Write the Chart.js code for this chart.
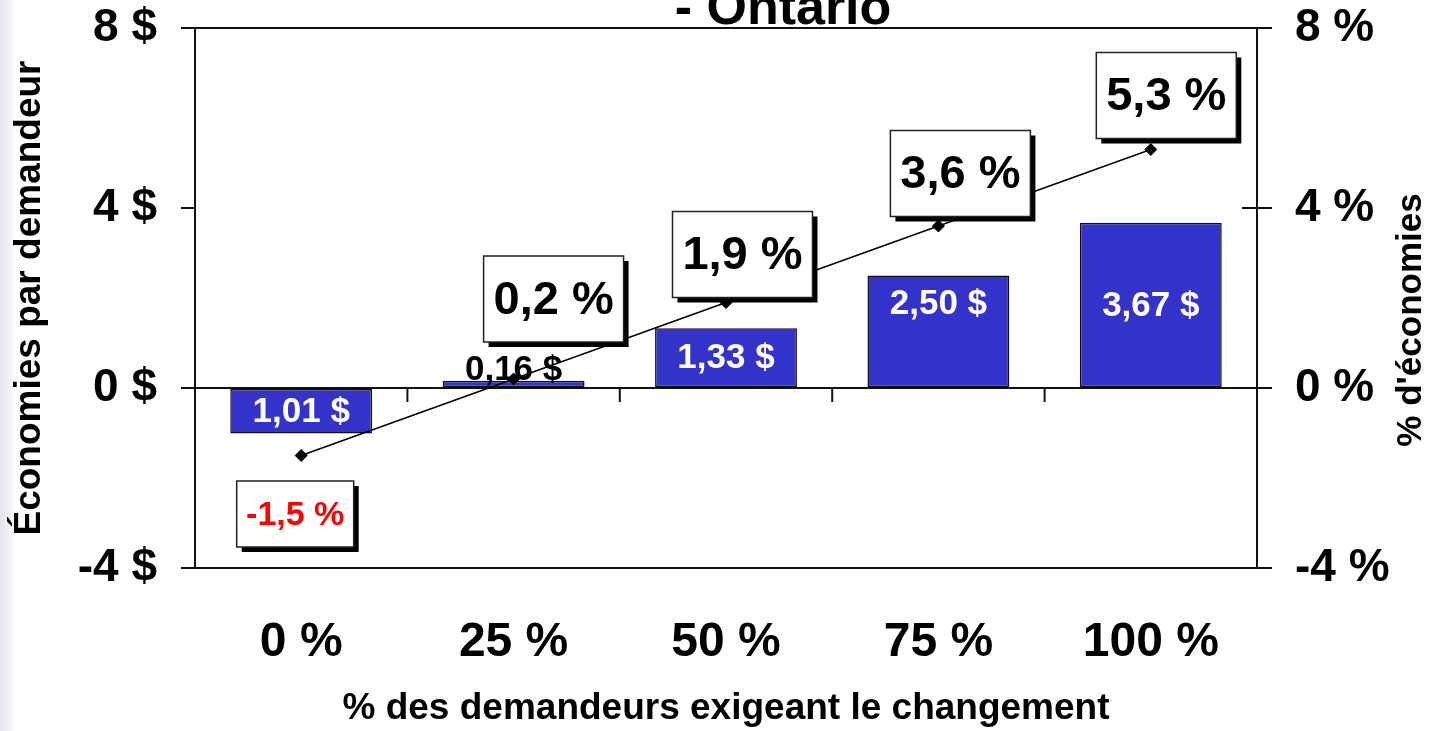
<!DOCTYPE html>
<html><head><meta charset="utf-8">
<script src="https://cdn.jsdelivr.net/npm/chart.js@4/dist/chart.umd.min.js"></script>
<style>
html,body{margin:0;padding:0;}
body{width:1435px;height:731px;overflow:hidden;background:linear-gradient(to right,#e3e5ec 0px,#eceef3 7px,#f8f9fb 12px,#fff 16px);}
#wrap{position:relative;width:1435px;height:731px;}
</style></head><body>
<div id="wrap"><canvas id="c" width="1435" height="731"></canvas></div>
<script>
// ---- data ----
const categories = ['0 %', '25 %', '50 %', '75 %', '100 %'];
const savingsPerClaimant = [-1.01, 0.16, 1.33, 2.50, 3.67];   // $ (left axis)
const savingsPercent = [-1.5, 0.2, 1.9, 3.6, 5.3];           // % (right axis)
const axisMin = -4, axisMax = 8, axisStep = 4;
const chartTitle = '- Ontario';
const xTitle = '% des demandeurs exigeant le changement';
const yTitle = 'Économies par demandeur';
const y2Title = "% d'économies";

const FONT = '"Liberation Sans", Arial, Helvetica, sans-serif';
Chart.defaults.font.family = FONT;
Chart.defaults.color = '#000';

const fmtDollar = v => Math.abs(v).toFixed(2).replace('.', ',') + ' $';
const fmtPct = v => v.toFixed(1).replace('.', ',') + ' %';

// styling for labels (offsets in px relative to library-computed element positions)
const barLabelStyle = [
  {mode: 'center', color: '#fff'},
  {mode: 'above', color: '#000', dy: -11},
  {mode: 'center', color: '#fff'},
  {mode: 'top', color: '#fff', dy: 27.5},
  {mode: 'center', color: '#fff'}
];
const boxStyle = [
  {dx: -6, dy: 25.5, below: true, w: 117, h: 66, size: 34, color: '#ff0000'},
  {dx: 40, dy: -37, w: 140, h: 86, size: 47, color: '#000'},
  {dx: 16.5, dy: -5, w: 140, h: 86, size: 47, color: '#000'},
  {dx: 22, dy: -9.5, w: 140, h: 86, size: 47, color: '#000'},
  {dx: 15.5, dy: -11, w: 140, h: 86, size: 47, color: '#000'}
];

const decor = {
  id: 'decor',
  afterDatasetDraw(chart, args) {
    if (args.index !== 1) return;
    const ctx = chart.ctx;
    const meta = chart.getDatasetMeta(1);
    ctx.save();
    ctx.font = 'bold 35px ' + FONT;
    ctx.textAlign = 'center';
    ctx.textBaseline = 'middle';
    meta.data.forEach((el, i) => {
      const st = barLabelStyle[i];
      const top = Math.min(el.y, el.base), bot = Math.max(el.y, el.base);
      let y;
      if (st.mode === 'center') y = (top + bot) / 2;
      else y = top + st.dy;
      ctx.fillStyle = st.color;
      ctx.fillText(fmtDollar(savingsPerClaimant[i]), el.x, y + 1);
    });
    ctx.restore();
  },
  afterDraw(chart) {
    const ctx = chart.ctx;
    const xs = chart.scales.x, ys = chart.scales.y, y2 = chart.scales.y2;
    const zeroY = ys.getPixelForValue(0);
    ctx.save();
    ctx.strokeStyle = '#111';
    ctx.lineWidth = 2;
    for (let i = 0; i < categories.length - 1; i++) {
      const bx = (xs.getPixelForValue(i) + xs.getPixelForValue(i + 1)) / 2;
      ctx.beginPath(); ctx.moveTo(bx, zeroY); ctx.lineTo(bx, zeroY + 14); ctx.stroke();
    }
    y2.ticks.forEach(t => {
      const py = y2.getPixelForValue(t.value);
      ctx.beginPath(); ctx.moveTo(y2.left - 15, py); ctx.lineTo(y2.left, py); ctx.stroke();
    });
    const lm = chart.getDatasetMeta(0);
    lm.data.forEach((pt, i) => {
      const st = boxStyle[i];
      const cx = pt.x + st.dx;
      const top = st.below ? pt.y + st.dy : pt.y + st.dy - st.h;
      const left = cx - st.w / 2;
      ctx.fillStyle = '#000';
      ctx.fillRect(left + 5, top + 5, st.w, st.h);
      ctx.fillStyle = '#fff';
      ctx.fillRect(left, top, st.w, st.h);
      ctx.lineWidth = 1.5;
      ctx.strokeStyle = '#222';
      ctx.strokeRect(left, top, st.w, st.h);
      ctx.font = 'bold ' + st.size + 'px ' + FONT;
      ctx.fillStyle = st.color;
      ctx.textAlign = 'center';
      ctx.textBaseline = 'middle';
      ctx.fillText(fmtPct(savingsPercent[i]), cx, top + st.h / 2 + 2);
    });
    ctx.save();
    ctx.translate(1421, 320);
    ctx.rotate(-Math.PI / 2);
    ctx.font = 'bold 35px ' + FONT;
    ctx.fillStyle = '#000';
    ctx.textAlign = 'center';
    ctx.textBaseline = 'alphabetic';
    ctx.fillText(y2Title, 0, 0);
    ctx.restore();
    ctx.font = 'bold 52px ' + FONT;
    ctx.fillStyle = '#000';
    ctx.textAlign = 'center';
    ctx.textBaseline = 'alphabetic';
    ctx.fillText(chartTitle, 783, 24);
    ctx.restore();
  }
};

new Chart(document.getElementById('c'), {
  data: {
    labels: categories,
    datasets: [
      {
        type: 'line', data: savingsPercent, yAxisID: 'y2', order: 0,
        borderColor: '#000', borderWidth: 1.5, tension: 0,
        pointStyle: 'rectRot', pointRadius: 6, pointBackgroundColor: '#000',
        pointBorderColor: '#000', pointBorderWidth: 1
      },
      {
        type: 'bar', data: savingsPerClaimant, yAxisID: 'y', order: 1,
        backgroundColor: '#3333cc', borderColor: '#111', borderWidth: 1.5,
        borderSkipped: false, barPercentage: 0.668, categoryPercentage: 1
      }
    ]
  },
  options: {
    responsive: false, devicePixelRatio: 1, animation: false,
    layout: {padding: {top: 28, left: 0, right: 0, bottom: 0}},
    plugins: {legend: {display: false}, tooltip: {enabled: false}, title: {display: false}},
    scales: {
      x: {
        type: 'category', offset: true,
        grid: {display: false, drawTicks: false}, border: {display: false},
        ticks: {font: {size: 48, weight: 'bold'}, color: '#000', padding: 46, maxRotation: 0},
        title: {display: true, text: xTitle, font: {size: 37, weight: 'bold'}, color: '#000', padding: {top: 0, bottom: 0}},
        afterFit(s) { s.height = 163; s.paddingLeft = 0; s.paddingRight = 0; }
      },
      y: {
        position: 'left', min: axisMin, max: axisMax,
        ticks: {stepSize: axisStep, callback: v => v + ' $', font: {size: 46, weight: 'bold'}, color: '#000', padding: 24},
        grid: {
          color: c => (c.tick && c.tick.value === 4) ? 'rgba(0,0,0,0)' : '#111',
          lineWidth: 2, tickColor: '#111', tickLength: 14, tickWidth: 2
        },
        border: {display: true, color: '#111', width: 2},
        title: {display: true, text: yTitle, font: {size: 37, weight: 'bold'}, color: '#000', padding: {top: 8, bottom: 0}},
        afterFit(s) { s.width = 195; s.paddingTop = 0; s.paddingBottom = 0; }
      },
      y2: {
        position: 'right', min: axisMin, max: axisMax,
        ticks: {stepSize: axisStep, callback: v => v + ' %', font: {size: 46, weight: 'bold'}, color: '#000', padding: 23},
        grid: {drawOnChartArea: false, tickColor: '#111', tickLength: 15, lineWidth: 2},
        border: {display: true, color: '#111', width: 2},
        afterFit(s) { s.width = 178; s.paddingTop = 0; s.paddingBottom = 0; }
      }
    }
  },
  plugins: [decor]
});
</script>
</body></html>
